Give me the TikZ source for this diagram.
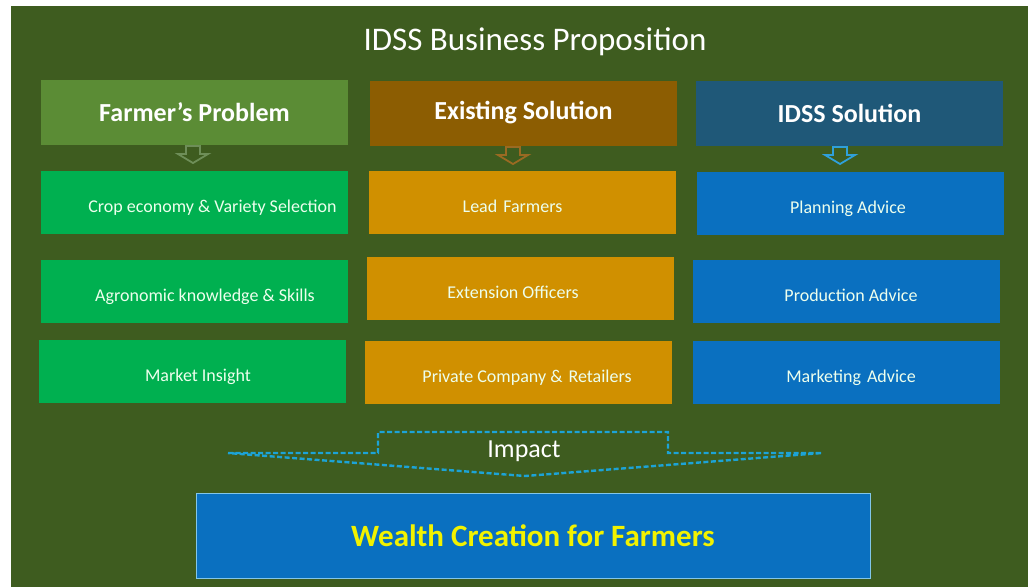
\documentclass[tikz,border=0pt]{standalone}
\usepackage{fontspec}
\setmainfont{Carlito}
\definecolor{bggreen}{HTML}{3E5C1F}
\definecolor{probhead}{HTML}{5B8C35}
\definecolor{existhead}{HTML}{8C5D02}
\definecolor{idsshead}{HTML}{1F5878}
\definecolor{probitem}{HTML}{00B050}
\definecolor{existitem}{HTML}{D09000}
\definecolor{idssitem}{HTML}{0A70C0}
\definecolor{probarrow}{HTML}{6E8E58}
\definecolor{existarrow}{HTML}{9A6A22}
\definecolor{idssarrow}{HTML}{2FA0DA}
\definecolor{impactline}{HTML}{1CA3D6}
\definecolor{wealthyellow}{HTML}{F2F200}

\tikzset{
	downarrow/.pic={\draw[pic actions] (-7,0) -- (7,0) -- (7,8) -- (15,8) -- (0,17) -- (-15,8) -- (-7,8) -- cycle;}
}

\begin{document}
\begin{tikzpicture}[x=1pt, y=-1pt,
	head/.style={text=white, font=\bfseries\fontsize{26}{28}\selectfont, inner sep=0pt, minimum width=307pt, minimum height=65pt},
	item/.style={text=white!93!green, font=\fontsize{18}{20}\selectfont, inner sep=0pt, minimum width=307pt, minimum height=63pt,
		text height=24pt, text depth=4pt}
	]
	\fill[white] (0,0) rectangle (1028,587);
	\fill[bggreen] (11,6) rectangle (1028,587);
	
	% Title
	\node[text=white, font=\fontsize{33}{36}\selectfont] (title) at (535,42) {IDSS Business Proposition};
	
	% Column headers
	\node[head, fill=probhead] (prob) at (194.5,112) {Farmer’s Problem};
	\node[head, fill=existhead] (exist) at (523.5,113) {Existing Solution};
	\node[head, fill=idsshead] (idss) at (849.5,113) {IDSS Solution};
	
	% Small arrows below the headers
	\pic[draw=probarrow, line width=1.8pt] at (193,146) {downarrow};
	\pic[draw=existarrow, line width=1.8pt] at (513,147) {downarrow};
	\pic[draw=idssarrow, line width=1.8pt] at (840,147) {downarrow};
	
	% Farmer's problem
	\node[item, fill=probitem] (p1) at (194.5,202) {\hspace{36pt}Crop economy \& Variety Selection};
	\node[item, fill=probitem] (p2) at (194.5,291) {\hspace{21pt}Agronomic knowledge \& Skills};
	\node[item, fill=probitem] (p3) at (192,371.5) {\hspace{12pt}Market Insight};
	
	% Existing solution
	\node[item, fill=existitem] (e1) at (522.5,202.5) {\hspace{-20pt}Lead\,\,Farmers};
	\node[item, fill=existitem] (e2) at (520,288.5) {\hspace{-14pt}Extension Officers};
	\node[item, fill=existitem] (e3) at (518,372) {\hspace{18pt}Private Company \&\,\,Retailers};
	
	% IDSS solution
	\node[item, fill=idssitem] (s1) at (850,203.5) {\hspace{-4pt}Planning Advice};
	\node[item, fill=idssitem] (s2) at (846,291.5) {\hspace{10pt}Production Advice};
	\node[item, fill=idssitem] (s3) at (846,372.5) {\hspace{10pt}Marketing\,\,Advice};
	
	% Impact arrow
	\coordinate (il) at (228,453);
	\coordinate (ir) at (822,453);
	\coordinate (itip) at (525,476);
	\draw[impactline, line width=2.4pt, dash pattern=on 5pt off 2.5pt] (il) -- (378,453) -- (378,432) -- (668,432) -- (668,453) -- (ir) -- (itip) -- cycle;
	\node[text=white, font=\fontsize{26}{28}\selectfont] (impact) at (524,451) {Impact};
	
	% Result
	\node[fill=idssitem, draw=idssarrow!60!white, minimum width=674pt, minimum height=85pt, inner sep=0pt,
		text=wealthyellow, font=\bfseries\fontsize{31}{33}\selectfont] (wealth) at (533,535.5) {Wealth Creation for Farmers};
\end{tikzpicture}
\end{document}
